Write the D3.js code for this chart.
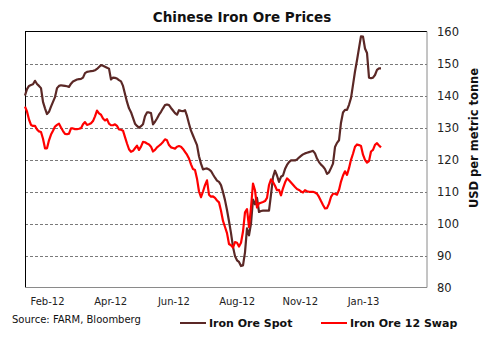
<!DOCTYPE html>
<html>
<head>
<meta charset="utf-8">
<script src="https://cdn.jsdelivr.net/npm/d3@7"></script>
<style>
  html, body { margin: 0; padding: 0; background: #fff; }
  svg { display: block; }
</style>
</head>
<body>
<svg id="chart" width="484" height="340"></svg>
<script>
// ---- Data ----
const title = "Chinese Iron Ore Prices";
const yAxisTitle = "USD per metric tonne";
const sourceText = "Source: FARM, Bloomberg";
const seriesNames = ["Iron Ore Spot", "Iron Ore 12 Swap"];
const xTickLabels = ["Feb-12", "Apr-12", "Jun-12", "Aug-12", "Nov-12", "Jan-13"];
const yTicks = [80, 90, 100, 110, 120, 130, 140, 150, 160];

const spotValues = [
  140, 142, 143, 143.3, 143.5, 144.6, 143.6, 143, 142.3, 138,
  136, 134.2, 134.9, 136.5, 138, 139.5, 142.3, 143, 143.2, 143.1,
  143, 142.9, 142.7, 143.7, 144.4, 144.7, 145, 145.1, 145.2, 145.6,
  147, 147.4, 147.5, 147.6, 147.7, 147.9, 148.3, 148.9, 149.5, 149.3,
  149, 148.7, 148.4, 145, 145.6, 145.5, 145.3, 144.8, 144.4, 143,
  140.5, 138, 136, 134.8, 133, 131.2, 130.5, 129.9, 130.4, 131,
  133.5, 134.7, 134.7, 134.5, 131, 131.8, 132.8, 134, 134.9, 136,
  137, 137.2, 137, 136.1, 135.3, 134.5, 134, 135.4, 135.2, 135.1,
  135.4, 133.6, 131.2, 129, 127.5, 126, 124.5, 121, 118.7, 116.9,
  117.1, 117.2, 116.9, 116.4, 115.3, 114.3, 113.4, 113, 112, 109.8,
  107.3, 104.2, 100.7, 97, 92.7, 89.8, 88.5, 88, 86.7, 86.9,
  91, 98.5, 96.3, 100, 107.5, 106, 108, 103.6, 103.9, 104,
  104, 104, 104, 109, 114.5, 116.5, 115, 113, 114.6, 115,
  117, 118.3, 119.2, 119.7, 119.7, 119.7, 120, 120.6, 121.1, 121.6,
  121.9, 122.1, 122.3, 122.5, 122.7, 121.9, 120.3, 119.2, 118.4, 117.8,
  117, 115.5, 116, 117.3, 118.7, 123.9, 125.2, 126, 131.5, 134.7,
  135.5, 135.5, 137.1, 139.2, 143.3, 147.5, 151, 154.8, 158.5, 158.4,
  154.7, 153.3, 145.6, 145.4, 145.6, 146.4, 148, 148.5, 148.5
];

const swapValues = [
  136.5, 135, 132.5, 130.8, 130.5, 130.5, 129.4, 128.8, 128.6, 126.5,
  123.5, 123.5, 126, 127.8, 129, 130.3, 130.8, 131.2, 130, 128.9,
  128, 127.9, 128.1, 129.7, 129.7, 129.5, 129.5, 129.6, 129.8, 131,
  131.7, 130.8, 131, 131.3, 132, 133.5, 135.3, 134.4, 134, 132.8,
  132.2, 132.6, 131.2, 130.7, 130.7, 131, 130.5, 129.4, 129.3, 129,
  127, 125, 123.2, 122.4, 122.7, 123.5, 124.3, 123, 124, 125.5,
  125.4, 125, 124.7, 124, 122.5, 123, 123.8, 124.3, 124.8, 125.5,
  126.3, 126, 124.5, 123.8, 123.6, 123.4, 124, 124.2, 124, 123.3,
  122.4, 121.5, 120.3, 118.5, 117, 116.7, 114, 110, 108.2, 110,
  112, 113.5, 109, 108.4, 108.5, 108, 107.2, 106.6, 104, 100.8,
  98.9, 97, 93.6, 93.2, 92.5, 94.2, 94, 92.8, 94, 97.5,
  103.5, 104.5, 98.9, 105, 112.5, 110.4, 105, 106.3, 106.5, 106.7,
  107, 108, 112, 113.8, 113, 111.8, 110.4, 110.5, 108.8, 111,
  112.8, 114.1, 113.5, 112.8, 112.1, 111.4, 110.8, 110.5, 110, 109.7,
  110.4, 110.1, 109.9, 109.9, 109.9, 109.7, 109.3, 108.3, 107, 105.8,
  104.7, 104.8, 106.2, 108.3, 109.3, 109.3, 109, 110.5, 113.1, 115,
  116.3, 115.2, 117.3, 119.9, 121.8, 124, 124.7, 124.5, 124.2, 121.5,
  119.9, 119, 119.5, 122.5, 123, 124.6, 125.1, 124.4, 123.8
];

// ---- Layout ----
const W = 484, H = 340;
const plot = { left: 25, right: 427, top: 31.5, bottom: 287.5 };
const colors = { spot: "#5b2826", swap: "#ff0000" };
const totalSlots = 201; // index slots across full plot width

const svg = d3.select("#chart");

const x = d3.scaleLinear().domain([0, totalSlots]).range([plot.left, plot.right]);
const y = d3.scaleLinear().domain([80, 160]).range([plot.bottom, plot.top]);
const xLab = d3.scalePoint().domain(xTickLabels).range([47, 363]);

// gridlines
svg.append("g")
  .selectAll("line")
  .data(yTicks.filter(v => v > 80 && v < 160))
  .join("line")
  .attr("x1", plot.left).attr("x2", plot.right)
  .attr("y1", d => Math.round(y(d)) + 0.5).attr("y2", d => Math.round(y(d)) + 0.5)
  .attr("stroke", "#7a7a7a")
  .attr("stroke-width", 1)
  .attr("stroke-dasharray", "3,2");

// frame
svg.append("line").attr("x1", plot.left).attr("x2", plot.right)
  .attr("y1", plot.top).attr("y2", plot.top).attr("stroke", "#000");
svg.append("line").attr("x1", plot.left + 0.5).attr("x2", plot.left + 0.5)
  .attr("y1", plot.top).attr("y2", plot.bottom + 0.5).attr("stroke", "#000");
svg.append("line").attr("x1", plot.right).attr("x2", plot.right)
  .attr("y1", plot.top).attr("y2", plot.bottom).attr("stroke", "#8a8a8a");
svg.append("line").attr("x1", plot.left).attr("x2", plot.right)
  .attr("y1", plot.bottom).attr("y2", plot.bottom).attr("stroke", "#8a8a8a");

// lines
const line = d3.line().x((d, i) => x(i)).y(d => y(d)).curve(d3.curveLinear);
svg.append("path").datum(spotValues).attr("d", line)
  .attr("fill", "none").attr("stroke", colors.spot).attr("stroke-width", 2.2)
  .attr("stroke-linejoin", "round");
svg.append("path").datum(swapValues).attr("d", line)
  .attr("fill", "none").attr("stroke", colors.swap).attr("stroke-width", 2.2)
  .attr("stroke-linejoin", "round");

// right y axis
const yAxis = d3.axisRight(y).tickValues(yTicks).tickSize(0).tickPadding(10);
const yg = svg.append("g").attr("transform", `translate(${plot.right},0)`).call(yAxis);
yg.select(".domain").remove();
yg.selectAll("text").attr("font-family", "DejaVu Sans, sans-serif")
  .attr("font-size", 11.5).attr("fill", "#222");

// x labels
const xAxis = d3.axisBottom(xLab).tickSize(0).tickPadding(0);
const xg = svg.append("g").attr("transform", `translate(0,${plot.bottom + 10})`).call(xAxis);
xg.select(".domain").remove();
xg.selectAll("text").attr("font-family", "DejaVu Sans, sans-serif")
  .attr("font-size", 10).attr("fill", "#222");

// title
svg.append("text").attr("x", 242).attr("y", 22).attr("text-anchor", "middle")
  .attr("font-family", "DejaVu Sans, sans-serif").attr("font-weight", "bold")
  .attr("font-size", 13.5).attr("fill", "#111").text(title);

// y axis title
svg.append("text").attr("transform", `translate(478,138) rotate(-90)`)
  .attr("text-anchor", "middle")
  .attr("font-family", "DejaVu Sans, sans-serif").attr("font-weight", "bold")
  .attr("font-size", 11.5).attr("fill", "#111").text(yAxisTitle);

// source
svg.append("text").attr("x", 12).attr("y", 323)
  .attr("font-family", "DejaVu Sans, sans-serif")
  .attr("font-size", 10).attr("fill", "#111").text(sourceText);

// legend
const legendItems = [
  { name: seriesNames[0], color: colors.spot, x0: 180 },
  { name: seriesNames[1], color: colors.swap, x0: 321 }
];
const lg = svg.append("g").selectAll("g").data(legendItems).join("g")
  .attr("transform", d => `translate(${d.x0},323)`);
lg.append("line").attr("x1", 0).attr("x2", 26).attr("y1", 0).attr("y2", 0)
  .attr("stroke", d => d.color).attr("stroke-width", 2);
lg.append("text").attr("x", 29).attr("y", 4.2)
  .attr("font-family", "DejaVu Sans, sans-serif").attr("font-weight", "bold")
  .attr("font-size", 11).attr("fill", "#111").text(d => d.name);
</script>
</body>
</html>
